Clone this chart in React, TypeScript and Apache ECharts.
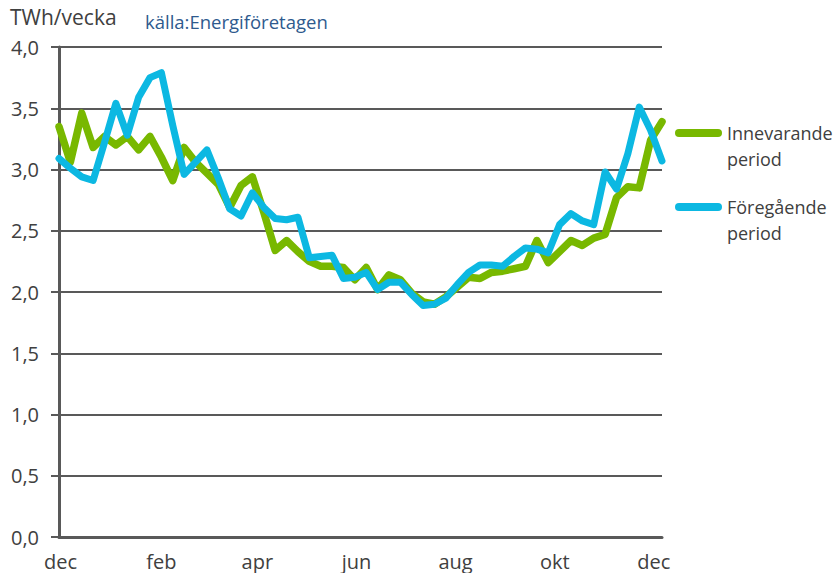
import React, { useEffect, useRef } from "react";
import * as echarts from "echarts";

// Weekly energy use, TWh/week
const innevarande = [
  3.35, 3.06, 3.46, 3.18, 3.27, 3.2, 3.27, 3.16, 3.27, 3.1,
  2.91, 3.18, 3.06, 2.97, 2.88, 2.69, 2.87, 2.94, 2.65, 2.34,
  2.42, 2.33, 2.25, 2.21, 2.21, 2.2, 2.1, 2.2, 2.02, 2.14,
  2.1, 1.99, 1.92, 1.9, 1.96, 2.04, 2.12, 2.11, 2.16, 2.17,
  2.19, 2.21, 2.42, 2.24, 2.33, 2.42, 2.38, 2.44, 2.47, 2.77,
  2.86, 2.85, 3.24, 3.39,
];
const foregaende = [
  3.09, 3.01, 2.94, 2.91, 3.22, 3.54, 3.28, 3.59, 3.75, 3.79,
  3.36, 2.96, 3.06, 3.16, 2.93, 2.68, 2.62, 2.81, 2.69, 2.6,
  2.59, 2.61, 2.28, 2.29, 2.3, 2.11, 2.12, 2.16, 2.02, 2.08,
  2.08, 1.98, 1.89, 1.9, 1.95, 2.06, 2.16, 2.22, 2.22, 2.21,
  2.29, 2.36, 2.35, 2.32, 2.55, 2.64, 2.58, 2.55, 2.98, 2.84,
  3.13, 3.51, 3.32, 3.07,
];
const seriesNames = ["Innevarande period", "Föregående period"];
const legendLabels = ["Innevarande\nperiod", "Föregående\nperiod"];
const firstWeek = "2022-11-30";
const tickMonths = ["2022-12-01", "2023-02-01", "2023-04-01", "2023-06-01", "2023-08-01", "2023-10-01", "2023-12-01"];
const tickLabels = ["dec", "feb", "apr", "jun", "aug", "okt", "dec"];
const yTicks = { min: 0, max: 4, interval: 0.5 };

const DAY = 86400000;
const start = Date.parse(firstWeek + "T00:00:00Z");
const weekTimes = innevarande.map((_, i) => start + i * 7 * DAY);
const tickValues = tickMonths.map((d) => Date.parse(d + "T00:00:00Z"));

const FONT = "'Open Sans', sans-serif";
const TEXT = "#404040";
const AXIS = "#595959";
const GREEN = "#78B800";
const BLUE = "#0CB8E2";

export default function App() {
  const ref = useRef<HTMLDivElement>(null);
  useEffect(() => {
    document.body.style.margin = "0";
    const chart = echarts.init(ref.current!, null, { renderer: "svg" });
    const legendBase = {
      orient: "vertical",
      left: 670,
      padding: 5,
      icon: "path://M4,0 H43 A4,4 0 0 1 43,8 H4 A4,4 0 0 1 4,0 Z",
      itemWidth: 47,
      itemHeight: 8,
      selectedMode: false,
      formatter: (name: string) => "\n" + legendLabels[seriesNames.indexOf(name)],
      textStyle: {
        fontFamily: FONT,
        fontSize: 18,
        color: TEXT,
        lineHeight: 26,
      },
    };
    chart.setOption({
      animation: false,
      title: [
        {
          text: "TWh/vecka",
          left: 10,
          top: 6,
          padding: 0,
          textStyle: { fontFamily: FONT, fontSize: 21, fontWeight: "normal", color: TEXT },
        },
        {
          text: "källa:Energiföretagen",
          left: 145,
          top: 12,
          padding: 0,
          textStyle: { fontFamily: FONT, fontSize: 18.5, fontWeight: "normal", color: "#2E5A8E" },
        },
      ],
      legend: [
        { ...legendBase, top: 89, data: [{ name: seriesNames[0], itemStyle: { color: GREEN } }] },
        { ...legendBase, top: 163, data: [{ name: seriesNames[1], itemStyle: { color: BLUE } }] },
      ],
      grid: { left: 59, right: 173, top: 47, bottom: 36, containLabel: false },
      xAxis: {
        type: "value",
        min: weekTimes[0],
        max: weekTimes[weekTimes.length - 1],
        axisLine: { show: true, lineStyle: { color: AXIS, width: 3 } },
        axisTick: { show: false },
        splitLine: { show: false },
        axisLabel: {
          customValues: tickValues,
          formatter: (v: number) => {
            const i = tickValues.indexOf(v);
            return i >= 0 ? tickLabels[i] : "";
          },
          fontFamily: FONT,
          fontSize: 20,
          color: TEXT,
          margin: 14,
          showMinLabel: true,
          showMaxLabel: true,
        },
      },
      yAxis: {
        type: "value",
        min: yTicks.min,
        max: yTicks.max,
        interval: yTicks.interval,
        axisLine: { show: true, lineStyle: { color: AXIS, width: 3 } },
        axisTick: { show: true, length: 8, lineStyle: { color: AXIS, width: 2 } },
        splitLine: { show: true, lineStyle: { color: AXIS, width: 2 } },
        axisLabel: {
          formatter: (v: number) => v.toFixed(1).replace(".", ","),
          fontFamily: FONT,
          fontSize: 20,
          color: TEXT,
          margin: 20,
        },
      },
      series: [
        {
          name: seriesNames[0],
          type: "line",
          data: innevarande.map((v, i) => [weekTimes[i], v]),
          symbol: "none",
          lineStyle: { color: GREEN, width: 7.5, cap: "round", join: "round" },
          itemStyle: { color: GREEN },
        },
        {
          name: seriesNames[1],
          type: "line",
          data: foregaende.map((v, i) => [weekTimes[i], v]),
          symbol: "none",
          lineStyle: { color: BLUE, width: 7, cap: "round", join: "round" },
          itemStyle: { color: BLUE },
        },
      ],
    });
    return () => chart.dispose();
  }, []);
  return <div ref={ref} style={{ width: 835, height: 573 }} />;
}
